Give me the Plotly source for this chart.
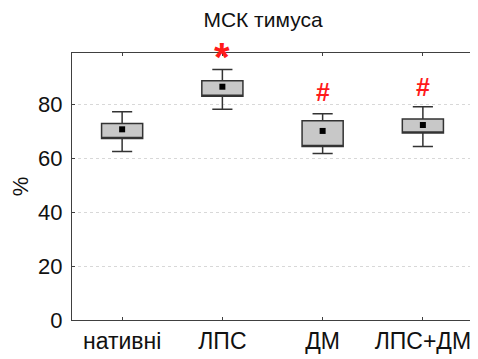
import plotly.graph_objects as go

categories = ["нативні", "ЛПС", "ДМ", "ЛПС+ДМ"]
whisker_low = [62.5, 78.1, 61.7, 64.3]
q1_vals = [67.3, 83.0, 64.3, 69.3]
mean_vals = [70.7, 86.5, 70.1, 72.3]
q3_vals = [72.9, 88.7, 73.9, 74.5]
whisker_high = [77.2, 92.9, 76.5, 79.1]
marks = ["", "*", "#", "#"]
mark_y = [None, 99.5, 84.6, 86.5]
y_ticks = [0, 20, 40, 60, 80]
Y_MAX = 99

FONT = "Liberation Sans, Arial, sans-serif"

fig = go.Figure()
fig.add_trace(go.Box(
    x=categories,
    q1=q1_vals, median=q1_vals, q3=q3_vals,
    lowerfence=whisker_low, upperfence=whisker_high,
    fillcolor="#c8c8c8",
    line=dict(color="#333333", width=1.5),
    whiskerwidth=0.49,
    width=0.41,
    boxpoints=False,
    hoverinfo="skip",
    showlegend=False,
))
fig.add_trace(go.Scatter(
    x=categories, y=mean_vals, mode="markers",
    marker=dict(symbol="square", size=6, color="black"),
    showlegend=False,
))

for c, m, yv in zip(categories, marks, mark_y):
    if not m:
        continue
    if m == "*":
        fig.add_annotation(x=c, y=yv / Y_MAX, yref="paper", yanchor="middle",
                           text="<b>*</b>", showarrow=False,
                           font=dict(family=FONT, size=40, color="#ff1a1a"),
                           yshift=-5)
    else:
        fig.add_annotation(x=c, y=yv / Y_MAX, yref="paper", yanchor="middle",
                           text="<b>#</b>", showarrow=False,
                           font=dict(family=FONT, size=25, color="#ff1a1a"))

fig.update_layout(
    width=478, height=359,
    margin=dict(l=64, r=13, t=45, b=47),
    paper_bgcolor="white", plot_bgcolor="white",
    font=dict(family=FONT, color="#111111"),
    title=dict(text="МСК тимуса", x=255/478, xanchor="center",
               y=1-12/359, yanchor="middle", yref="container",
               font=dict(family=FONT, size=21, color="#111111")),
)
fig.update_xaxes(
    type="category", range=[-0.5, 3.5], automargin=False,
    showline=True, linecolor="#404040", linewidth=1, mirror="allticks",
    ticks="inside", ticklen=3, tickcolor="#404040",
    tickfont=dict(size=23, family=FONT, color="#111111"),
    showgrid=False, zeroline=False,
)
fig.update_yaxes(
    range=[0, Y_MAX], tickvals=y_ticks, automargin=False,
    showline=True, linecolor="#404040", linewidth=1, mirror="allticks",
    ticks="inside", ticklen=3, tickcolor="#404040",
    tickfont=dict(size=22, family=FONT, color="#111111"),
    showgrid=True, gridcolor="#d8d8d8", griddash="dot", gridwidth=1,
    zeroline=False,
    title=dict(text="%", font=dict(size=22, family=FONT, color="#111111"), standoff=11),
    ticklabelstandoff=4,
)

fig.write_html("out.html")
